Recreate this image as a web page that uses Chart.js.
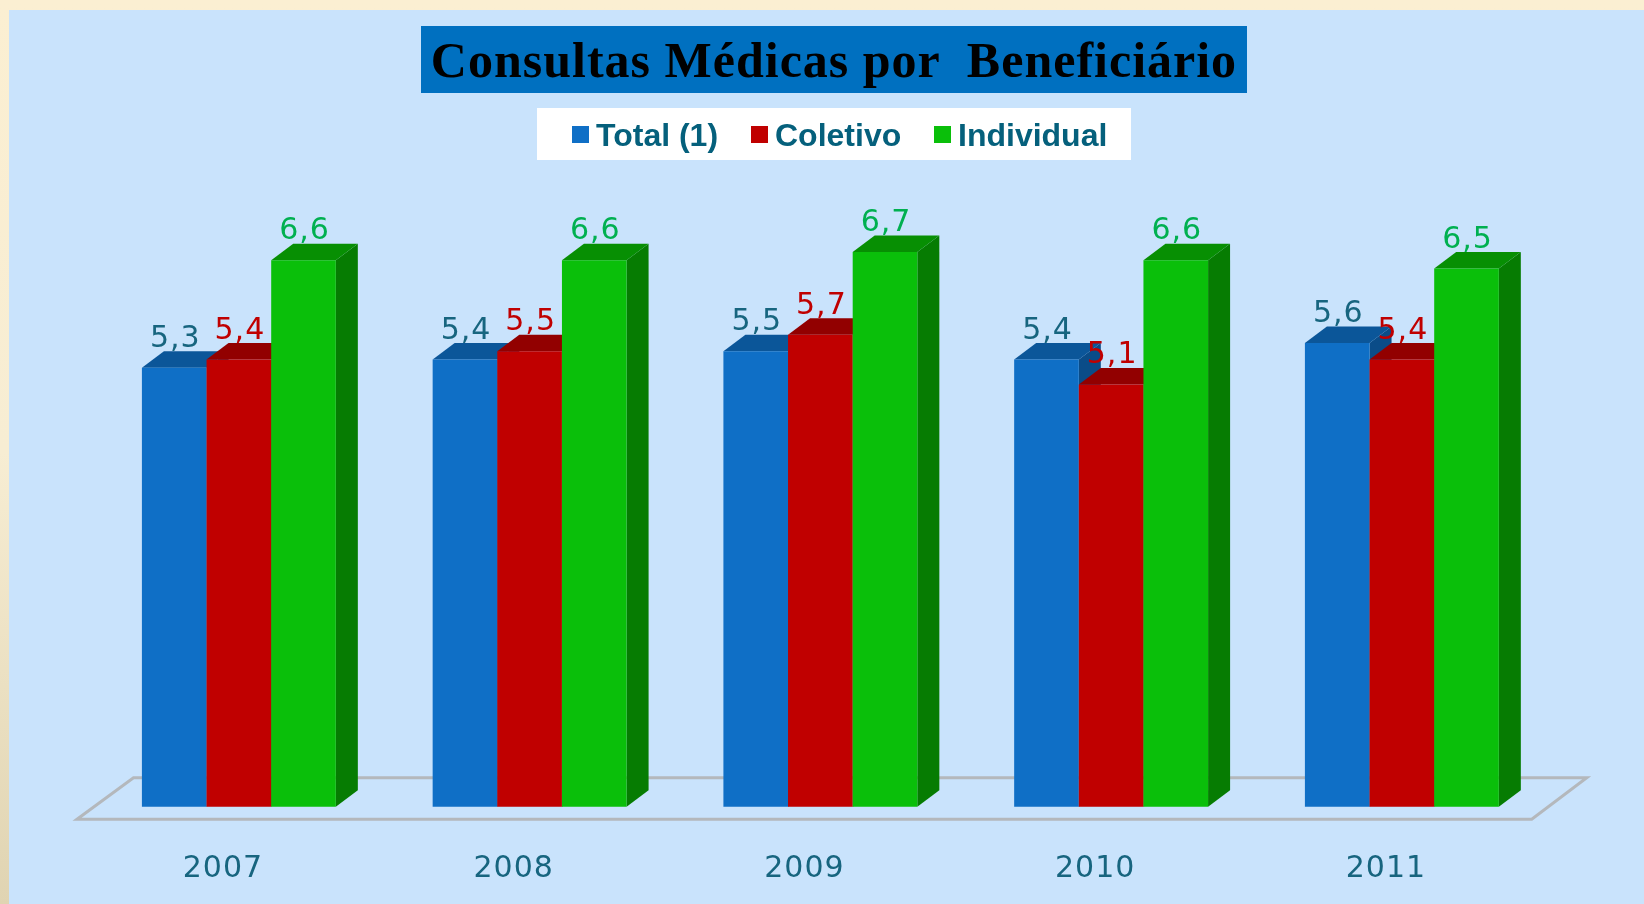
<!DOCTYPE html>
<html lang="pt">
<head>
<meta charset="utf-8">
<title>Consultas Médicas por Beneficiário</title>
<script src="https://cdn.jsdelivr.net/npm/chart.js@4"></script>
<style>
    html, body { margin: 0; padding: 0; width: 1644px; height: 904px; overflow: hidden; }
    body { background: linear-gradient(180deg, #fbefd2 0%, #f7edd3 50%, #e0d4b2 100%); position: relative; }
    #panel { position: absolute; left: 9px; top: 10px; right: 0; bottom: 0; background: #c9e3fc; }
    #chart { position: absolute; left: 0; top: 0; }
    #title {
        position: absolute; left: 421px; top: 26px; width: 826px; height: 67px;
        background: #0070c0; color: #000; text-align: center; white-space: pre;
        font: bold 50px/68px "Liberation Serif", serif; letter-spacing: 1px;
    }
    #legend {
        position: absolute; left: 537px; top: 108px; width: 594px; height: 52px;
        background: #fff; color: #05607c;
        font: bold 32px/55px "Liberation Sans", sans-serif;
    }
    #legend span { position: absolute; top: 0; white-space: pre; }
    #legend i { position: absolute; top: 18px; width: 17px; height: 17px; }
</style>
</head>
<body>
<div id="panel"></div>
<canvas id="chart" width="1644" height="904"></canvas>
<div id="title">Consultas Médicas por  Beneficiário</div>
<div id="legend"></div>
<script>
// Chart data
const years = ['2007', '2008', '2009', '2010', '2011'];
const total = [5.3, 5.4, 5.5, 5.4, 5.6];
const coletivo = [5.4, 5.5, 5.7, 5.1, 5.4];
const individual = [6.6, 6.6, 6.7, 6.6, 6.5];
const seriesNames = ['Total (1)', 'Coletivo', 'Individual'];

// Colours per series: front, top, side, value label
const frontColors = ['#0f6fc6', '#c00000', '#0abf0a'];
const topColors = ['#0b5699', '#920000', '#078f03'];
const sideColors = ['#0a4c88', '#830000', '#067c02'];
const labelColors = ['#17657f', '#c00000', '#00b050'];

const DEPTH_X = 22;
const DEPTH_Y = 16.5;
const LABEL_FONT = 'DejaVu Sans, sans-serif';

function polygon(ctx, points, fill) {
    ctx.beginPath();
    points.forEach((p, i) => i ? ctx.lineTo(p[0], p[1]) : ctx.moveTo(p[0], p[1]));
    ctx.closePath();
    ctx.fillStyle = fill;
    ctx.fill();
}

// Spacing for the axis labels has to be on the context before the scales draw
const spacingPlugin = {
    id: 'spacing',
    beforeDraw(chart) {
        chart.ctx.letterSpacing = '1px';
    }
};

// Grey floor under the bars
const floorPlugin = {
    id: 'floor',
    beforeDatasetsDraw(chart) {
        const { ctx, chartArea } = chart;
        const front = chartArea.bottom + 12.5;
        const back = chartArea.bottom - 29;
        const left = chartArea.left - 16.5;
        const right = chartArea.right - 15.5;
        ctx.save();
        ctx.beginPath();
        ctx.moveTo(left, front);
        ctx.lineTo(left + 56.5, back);
        ctx.lineTo(right + 55, back);
        ctx.lineTo(right, front);
        ctx.closePath();
        ctx.strokeStyle = '#b4b8bc';
        ctx.lineWidth = 3;
        ctx.stroke();
        ctx.restore();
    }
};

// Chart.js paints the first dataset last, here blue has to go first and green last,
// each with its top and side faces right before its front face
const bar3dPlugin = {
    id: 'bar3d',
    beforeDatasetsDraw(chart) {
        const { ctx } = chart;
        chart.data.datasets.forEach((ds, i) => {
            const meta = chart.getDatasetMeta(i);
            ctx.save();
            meta.data.forEach(bar => {
                const l = bar.x - bar.width / 2;
                const r = bar.x + bar.width / 2;
                polygon(ctx, [[r, bar.y], [r + DEPTH_X, bar.y - DEPTH_Y], [r + DEPTH_X, bar.base - DEPTH_Y], [r, bar.base]], sideColors[i]);
                polygon(ctx, [[l, bar.y], [l + DEPTH_X, bar.y - DEPTH_Y], [r + DEPTH_X, bar.y - DEPTH_Y], [r, bar.y]], topColors[i]);
            });
            ctx.restore();
            meta.controller.draw();
        });
    },
    beforeDatasetDraw() {
        return false;
    }
};

// Value labels with a decimal comma
const valueLabelPlugin = {
    id: 'valueLabels',
    afterDatasetsDraw(chart) {
        const { ctx } = chart;
        ctx.save();
        ctx.font = '30px ' + LABEL_FONT;
        ctx.textAlign = 'center';
        ctx.textBaseline = 'alphabetic';
        chart.data.datasets.forEach((ds, i) => {
            ctx.fillStyle = labelColors[i];
            chart.getDatasetMeta(i).data.forEach((bar, j) => {
                ctx.fillText(ds.data[j].toFixed(1).replace('.', ','), bar.x + 1, bar.y - 21);
            });
        });
        ctx.restore();
    }
};

new Chart(document.getElementById('chart'), {
    type: 'bar',
    data: {
        labels: years,
        datasets: [total, coletivo, individual].map((values, i) => ({
            label: seriesNames[i],
            data: values,
            backgroundColor: frontColors[i],
            borderWidth: 0,
            barPercentage: 1,
            categoryPercentage: 0.667
        }))
    },
    options: {
        responsive: false,
        animation: false,
        layout: { padding: { left: 93.5, right: 96.75, top: 144.3, bottom: 0 } },
        plugins: { legend: { display: false }, title: { display: false }, tooltip: { enabled: false } },
        scales: {
            x: {
                afterFit(scale) { scale.height = 97.3; },
                grid: { display: false },
                border: { display: false },
                ticks: {
                    color: '#17657f',
                    font: { family: LABEL_FONT, size: 30 },
                    padding: 37,
                    labelOffset: -16,
                    maxRotation: 0
                }
            },
            y: { display: false, min: 0, max: 8 }
        }
    },
    plugins: [spacingPlugin, floorPlugin, bar3dPlugin, valueLabelPlugin]
});

// Legend swatches and names
const legend = document.getElementById('legend');
const swatchLefts = [35, 214, 397];
const nameLefts = [59, 238, 421];
seriesNames.forEach((name, i) => {
    const swatch = document.createElement('i');
    swatch.style.left = swatchLefts[i] + 'px';
    swatch.style.background = frontColors[i];
    legend.appendChild(swatch);
    const text = document.createElement('span');
    text.style.left = nameLefts[i] + 'px';
    text.textContent = name;
    legend.appendChild(text);
});
</script>
</body>
</html>
